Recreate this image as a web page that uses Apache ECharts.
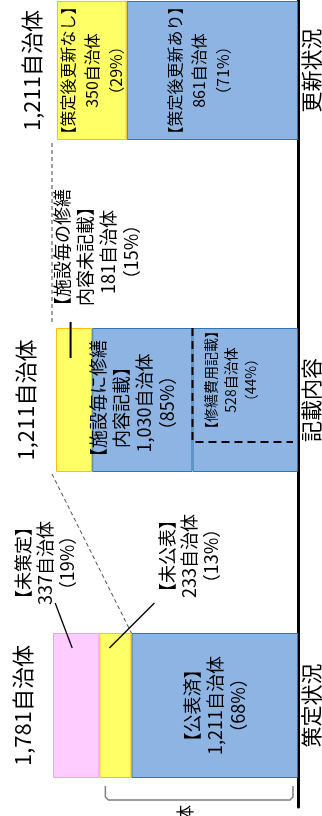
<!DOCTYPE html>
<html>
<head>
<meta charset="utf-8">
<script src="https://cdn.jsdelivr.net/npm/echarts@6/dist/echarts.min.js"></script>
<style>
  html, body { margin: 0; padding: 0; background: #fff; }
  #chart { width: 322px; height: 816px; }
</style>
</head>
<body>
<div id="chart"></div>
<script>
// categories (bottom to top) and totals per bar
const categories = ['策定状況', '記載内容', '更新状況'];
const totals = [1781, 1211, 1211];

// 策定状況
const planNames = ['公表済', '未公表', '未策定'];
const planCounts = [1211, 233, 337];
const planPcts = [68, 13, 19];
const plannedTotal = 1444;

// 記載内容
const contentNames = ['施設毎に修繕\n内容記載', '施設毎の修繕\n内容未記載'];
const contentCounts = [1030, 181];
const contentPcts = [85, 15];
const costName = '修繕費用記載';
const costCount = 528;
const costPct = 44;

// 更新状況
const updateNames = ['策定後更新あり', '策定後更新なし'];
const updateCounts = [861, 350];
const updatePcts = [71, 29];

const FONT = 'Noto Sans CJK JP';
const BLUE = '#8eb4e3', BLUE_EDGE = '#2e75b6';
const YELLOW = '#ffff66', YELLOW_EDGE = '#ffc000';
const PINK = '#ffccff', PINK_EDGE = '#ff99ff';

const grids = [
  { left: 53, right: 22, top: 604, height: 203 },
  { left: 56, right: 22, top: 141, height: 518 },
  { left: 57, right: 22, top: 0, height: 141 }
];
const barWidths = [145, 144, 139];

const fmt = n => n.toLocaleString('en-US');
const txt = (name, count, pct) => '【' + name + '】\n' + fmt(count) + '自治体\n（' + pct + '%）';

// shift is given on screen; label offset works in the rotated text frame
function inLabel(text, size, lh, shift) {
  const s = shift || [0, 0];
  return {
    show: true, position: 'inside', rotate: 90, formatter: text,
    fontSize: size, lineHeight: lh, color: '#000', fontFamily: FONT,
    offset: [-s[1], s[0]]
  };
}

function seg(gi, name, value, color, edge, label) {
  return {
    type: 'bar', name: name, xAxisIndex: gi, yAxisIndex: gi, stack: 's' + gi,
    barWidth: barWidths[gi], data: [value], silent: true,
    itemStyle: { color: color, borderColor: edge, borderWidth: 1 },
    label: label || { show: false }
  };
}

const chart = echarts.init(document.getElementById('chart'));
chart.setOption({
  animation: false,
  backgroundColor: '#fff',
  textStyle: { fontFamily: FONT },
  grid: grids,
  xAxis: grids.map((g, i) => ({
    type: 'value', gridIndex: i, inverse: true, min: 0, max: totals[i], show: false
  })),
  yAxis: grids.map((g, i) => ({
    type: 'category', gridIndex: i, position: 'right', data: [categories[i]],
    axisLine: { show: true, lineStyle: { color: '#000', width: 3 } },
    axisTick: { show: false },
    axisLabel: { rotate: 90, fontSize: 21, color: '#000', fontFamily: FONT, margin: 3 }
  })),
  series: [
    seg(0, planNames[0], planCounts[0], BLUE, BLUE_EDGE,
      inLabel(txt(planNames[0], planCounts[0], planPcts[0]), 18, 23)),
    seg(0, planNames[1], planCounts[1], YELLOW, YELLOW_EDGE),
    seg(0, planNames[2], planCounts[2], PINK, PINK_EDGE),

    seg(1, costName, costCount, BLUE, BLUE_EDGE,
      inLabel(txt(costName, costCount, costPct), 14, 20, [-15, -20])),
    seg(1, contentNames[0], contentCounts[0] - costCount, BLUE, BLUE_EDGE,
      inLabel(txt(contentNames[0], contentCounts[0], contentPcts[0]), 18, 23, [-10, 3])),
    seg(1, contentNames[1], contentCounts[1], YELLOW, YELLOW_EDGE),

    seg(2, updateNames[0], updateCounts[0], BLUE, BLUE_EDGE,
      inLabel(txt(updateNames[0], updateCounts[0], updatePcts[0]), 16, 24, [-13, 0])),
    seg(2, updateNames[1], updateCounts[1], YELLOW, YELLOW_EDGE,
      inLabel(txt(updateNames[1], updateCounts[1], updatePcts[1]), 16, 24))
  ]
});

// annotations placed from the axes
const px = (gi, v) => chart.convertToPixel({ gridIndex: gi }, [v, 0]);
const axisX = px(0, 0)[0];
const cy = [0, 1, 2].map(i => px(i, 0)[1]);
const barTop = cy.map((c, i) => c - barWidths[i] / 2);
const barBot = cy.map((c, i) => c + barWidths[i] / 2);
const leftX = [0, 1, 2].map(i => px(i, totals[i])[0]);

const planEdge1 = px(0, planCounts[0])[0];
const planEdge2 = px(0, planCounts[0] + planCounts[1])[0];
const pinkMid = (planEdge2 + leftX[0]) / 2;
const planYellowMid = (planEdge1 + planEdge2) / 2;
const costX = px(1, costCount)[0];
const contentEdge = px(1, contentCounts[0])[0];
const contentYellowMid = (contentEdge + leftX[1]) / 2;

function vText(x, y, text, size, lh, align) {
  return {
    type: 'text', x: x, y: y, z: 100, rotation: Math.PI / 2, silent: true,
    style: {
      text: text, fontSize: size, lineHeight: lh, fontFamily: FONT, fill: '#000',
      align: align || 'center', verticalAlign: 'middle'
    }
  };
}
function line(points, color, width, dash) {
  return {
    type: 'polyline', z: 100, silent: true, shape: { points: points },
    style: { stroke: color, lineWidth: width, lineDash: dash || null, fill: null }
  };
}

const bx0 = px(0, plannedTotal)[0] + 6, bx1 = axisX - 5;
const by0 = barBot[0] + 8, by1 = barBot[0] + 22;

chart.setOption({
  graphic: [
    vText(leftX[0] - 30, cy[0], fmt(totals[0]) + '自治体', 22, 26),
    vText(leftX[1] - 30, cy[1], fmt(totals[1]) + '自治体', 22, 26),
    vText(leftX[2] - 25, cy[2], fmt(totals[2]) + '自治体', 22, 26),

    line([[leftX[1] - 4, barBot[2] + 3], [leftX[1] - 4, barTop[1] - 5]], '#404040', 1, [4, 3]),
    line([[leftX[1] - 4, barBot[1] + 2], [planEdge1, barTop[0]]], '#404040', 1, [4, 3]),
    line([[costX, barTop[1]], [costX, barTop[1] + 114], [axisX - 5, barTop[1] + 114]], '#000', 2, [8, 5]),

    vText(pinkMid - 31, barTop[0] - 70, txt(planNames[2], planCounts[2], planPcts[2]), 18, 22),
    line([[pinkMid - 21, barTop[0] - 30], [pinkMid - 4, barTop[0] + 15]], '#000', 1.3),
    vText(planYellowMid + 74, barTop[0] - 77, txt(planNames[1], planCounts[1], planPcts[1]), 18, 22),
    line([[planYellowMid + 39, barTop[0] - 30], [planYellowMid - 6, barTop[0] + 15]], '#000', 1.3),
    vText(contentYellowMid + 23, barTop[1] - 76, txt(contentNames[1], contentCounts[1], contentPcts[1]), 18, 23),
    line([[contentYellowMid - 3.5, barTop[1] - 6], [contentYellowMid - 3.5, barTop[1] + 30]], '#000', 2),

    line([[bx0, by0], [bx0, by1 - 3], [bx0 + 3, by1], [bx1 - 3, by1], [bx1, by1 - 3], [bx1, by0]], '#7f7f7f', 1.5),
    vText((bx0 + bx1) / 2 - 14, barBot[0] + 27, fmt(plannedTotal) + '自治体', 18, 22, 'right')
  ]
});
</script>
</body>
</html>
